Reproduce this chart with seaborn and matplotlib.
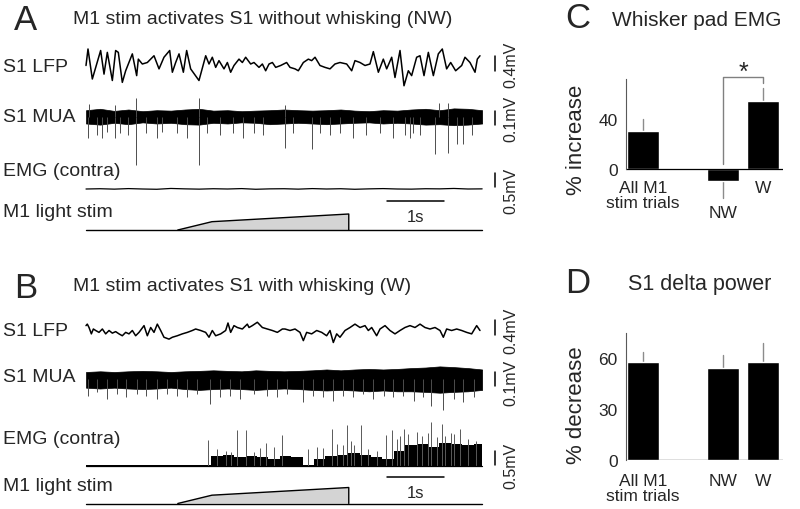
import numpy as np
import pandas as pd
import matplotlib
matplotlib.use("Agg")
import matplotlib.pyplot as plt
import seaborn as sns

sns.set_style("white")
plt.rcParams['font.family'] = ['Liberation Sans', 'DejaVu Sans']

# ---------------- panel A data (time in s) ----------------
lfp_a_t = [0.00, 0.035, 0.111, 0.257, 0.316, 0.374, 0.462, 0.52, 0.567, 0.637, 0.696, 0.813,
           0.889, 0.918, 0.988, 1.076, 1.193, 1.281, 1.368, 1.468, 1.515, 1.573, 1.632, 1.708,
           1.766, 1.836, 1.982, 2.10, 2.158, 2.216, 2.275, 2.333, 2.421, 2.48, 2.538, 2.596,
           2.684, 2.743, 2.801, 2.889, 2.947, 3.035, 3.094, 3.152, 3.211, 3.27, 3.328, 3.415,
           3.520, 3.579, 3.667, 3.725, 3.813, 3.901, 3.959, 4.018, 4.105, 4.193, 4.281, 4.368,
           4.456, 4.573, 4.661, 4.719, 4.807, 4.895, 4.982, 5.041, 5.129, 5.216, 5.275, 5.363,
           5.421, 5.509, 5.579, 5.655, 5.713, 5.801, 5.860, 5.930, 6.006, 6.094, 6.181, 6.251,
           6.327, 6.398, 6.485, 6.591, 6.649, 6.737, 6.825, 6.865, 6.912]
lfp_a_mv = [-0.04, 0.40, -0.40, 0.36, -0.27, 0.31, -0.44, 0.36, 0.31, -0.49, -0.18, 0.27,
            -0.31, 0.13, 0.0, 0.04, 0.22, -0.13, 0.18, 0.36, -0.22, 0.04, 0.27, -0.22,
            0.36, -0.13, -0.44, 0.22, 0.0, 0.18, -0.09, 0.09, -0.13, 0.04, -0.22, -0.04,
            0.13, 0.04, 0.18, 0.0, 0.04, -0.09, 0.0, -0.18, 0.0, 0.04, -0.09, -0.04,
            0.04, -0.09, -0.13, -0.18, 0.04, 0.13, 0.09, 0.18, -0.04, -0.09, -0.13, 0.0,
            0.04, 0.0, -0.18, 0.09, 0.04, -0.04, 0.0, 0.33, -0.22, 0.13, -0.13, 0.18,
            -0.36, 0.36, -0.58, -0.18, -0.31, 0.18, 0.22, -0.31, 0.31, -0.31, 0.27, 0.40,
            -0.13, 0.04, -0.18, -0.04, 0.18, 0.04, -0.22, 0.13, 0.22]

# MUA band edges (uV) every 0.25 s, and spikes
mua_a_top = [45, 55, 40, 50, 38, 45, 42, 50, 55, 42, 45, 38, 42, 45, 50,
             45, 42, 45, 50, 42, 38, 45, 42, 50, 55, 45, 58, 55, 45]
mua_a_bot = [50, 58, 45, 55, 42, 50, 45, 55, 58, 45, 50, 42, 45, 55, 50,
             45, 50, 55, 50, 45, 42, 50, 45, 50, 58, 55, 62, 58, 50]
mua_a_spk_t = [0.04, 0.19, 0.28, 0.36, 0.51, 0.60, 0.74, 0.88, 1.06, 1.24, 1.33, 1.59, 1.77,
               1.99, 2.12, 2.35, 2.58, 2.76, 2.94, 3.11, 3.49, 3.64, 3.96, 4.11, 4.28, 4.46,
               4.69, 4.92, 5.16, 5.39, 5.60, 5.68, 5.74, 5.86, 6.12, 6.35, 6.51, 6.61, 6.77]
mua_a_spk_uv = [150, 135, 150, 110, 150, 120, 135, 345, 120, 150, 110, 120, 150,
                345, 120, 135, 120, 150, 120, 135, 225, 120, 235, 120, 135, 120,
                150, 135, 120, 150, 135, 150, 120, 135, 270, 260, 195, 195, 135]
mua_a_up_t = [0.05, 0.50, 0.88, 1.99, 3.49, 6.20, 6.35]
mua_a_up_uv = [90, 80, 135, 130, 85, 100, 95]

emg_a_mv = [0.0, 0.01, -0.005, 0.015, 0.0, -0.01, 0.02, 0.005, -0.005, 0.01, 0.0, 0.015, -0.01,
            0.005, 0.01, -0.005, 0.015, 0.0, 0.01, -0.01, 0.005, 0.015, 0.0, -0.005, 0.01,
            0.005, 0.02, 0.0, 0.005]

# ---------------- panel B data ----------------
lfp_b_t = [0.0, 0.023, 0.053, 0.094, 0.129, 0.170, 0.228, 0.287, 0.345, 0.404, 0.462, 0.520,
           0.579, 0.637, 0.696, 0.754, 0.813, 0.871, 0.930, 1.018, 1.076, 1.135, 1.193, 1.251,
           1.310, 1.368, 1.456, 1.515, 1.602, 1.690, 1.778, 1.865, 1.924, 2.012, 2.099, 2.158,
           2.216, 2.275, 2.363, 2.450, 2.491, 2.538, 2.596, 2.655, 2.743, 2.830, 2.860, 2.918,
           3.006, 3.094, 3.181, 3.269, 3.357, 3.445, 3.491, 3.579, 3.667, 3.754, 3.813, 3.871,
           3.959, 4.047, 4.135, 4.222, 4.281, 4.339, 4.398, 4.456, 4.544, 4.632, 4.719, 4.807,
           4.895, 4.953, 5.012, 5.099, 5.158, 5.246, 5.333, 5.421, 5.509, 5.596, 5.684, 5.772,
           5.860, 5.947, 6.035, 6.123, 6.211, 6.269, 6.327, 6.415, 6.503, 6.591, 6.678, 6.766,
           6.854, 6.912]
lfp_b_mv = [0.09, 0.13, 0.04, -0.13, 0.0, -0.04, -0.09, 0.0, -0.13, -0.04, -0.11, -0.07,
            -0.13, -0.18, -0.09, -0.13, -0.04, -0.18, -0.09, 0.09, -0.18, 0.04, -0.09, 0.13,
            -0.04, -0.22, -0.27, -0.22, -0.18, -0.13, -0.09, -0.04, 0.0, -0.04, -0.09, -0.22,
            -0.04, -0.18, -0.13, -0.04, 0.16, -0.09, 0.09, 0.04, 0.0, 0.13, 0.04, 0.09,
            0.18, 0.04, 0.0, -0.04, -0.09, 0.0, 0.0, -0.04, 0.0, -0.09, -0.31, -0.09,
            -0.13, -0.04, -0.09, -0.18, -0.04, -0.36, -0.13, -0.22, -0.04, 0.04, 0.13, 0.04,
            0.09, -0.04, 0.04, -0.18, 0.0, 0.09, -0.04, -0.13, -0.04, 0.04, 0.09, 0.04,
            0.13, 0.04, 0.0, 0.04, -0.04, -0.22, 0.0, -0.04, 0.0, -0.04, -0.09, -0.13,
            0.09, -0.04]

mua_b_top = [50, 55, 50, 55, 58, 55, 50, 55, 58, 62, 58, 55, 62, 58, 55,
             58, 62, 68, 62, 68, 72, 68, 72, 78, 82, 90, 85, 78, 68]
mua_b_bot = [62, 68, 62, 68, 72, 68, 62, 72, 78, 72, 68, 72, 78, 72, 68,
             72, 78, 82, 78, 82, 88, 82, 88, 88, 92, 98, 92, 88, 78]
mua_b_spk_t = [0.04, 0.19, 0.36, 0.54, 0.71, 0.89, 1.06, 1.24, 1.42, 1.59, 1.77, 1.94, 2.18,
               2.35, 2.53, 2.70, 2.94, 3.17, 3.35, 3.52, 3.81, 3.99, 4.16, 4.34, 4.51, 4.69,
               4.86, 5.04, 5.22, 5.39, 5.57, 5.75, 5.92, 6.06, 6.27, 6.45, 6.62, 6.80]
mua_b_spk_uv = [119, 91, 140, 105, 126, 105, 119, 140, 105, 119, 126, 105, 175,
                126, 119, 140, 105, 119, 126, 105, 161, 119, 126, 154, 119, 126,
                105, 140, 119, 126, 119, 154, 126, 196, 224, 140, 161, 126]

emg_b_env = [0.02, 0.02, 0.02, 0.02, 0.02, 0.02, 0.02, 0.02, 0.02, 0.02, 0.02, 0.35,
             0.4, 0.3, 0.35, 0.3, 0.25, 0.35, 0.3, 0.03, 0.25, 0.35, 0.4, 0.45,
             0.4, 0.3, 0.25, 0.55, 0.75, 0.8, 0.7, 0.85, 0.8, 0.75, 0.8, 0.6]
emg_b_spk_t = [2.14, 2.65, 2.81, 3.15, 3.44, 4.32, 4.58, 4.82, 5.26, 5.37, 5.58, 5.81, 6.05,
               6.25, 6.40, 6.57, 2.30, 2.45, 2.55, 2.95, 3.05, 3.30, 3.90, 4.05, 4.15, 4.40,
               4.50, 4.65, 4.70, 4.95, 5.10, 5.45, 5.50, 5.65, 5.90, 6.00, 6.15, 6.30, 6.45,
               6.70, 6.85]
emg_b_spk_mv = [0.95, 1.31, 1.31, 0.83, 1.13, 1.37, 1.49, 1.49, 1.13, 1.31, 1.37, 1.25, 1.61,
                1.55, 1.19, 1.37, 0.6, 0.55, 0.5, 0.5, 0.65, 0.7, 0.6, 0.7, 0.65, 0.8,
                0.75, 0.9, 0.75, 0.6, 0.55, 1.0, 1.1, 1.15, 1.1, 1.2, 1.05, 1.1, 1.15,
                1.0, 0.9]

# light stimulus ramp (normalised intensity)
stim_t = [1.61, 2.21, 4.61]
stim_level = [0.0, 0.52, 1.0]

# ---------------- panels C, D ----------------
groups = ['All M1\nstim trials', 'NW', 'W']
group_pos = [0, 2, 3]
emg_increase = [30.1, -9.3, 54.1]
emg_increase_err = [9.6, 14.2, 10.4]
delta_decrease = [57.6, 54.1, 57.6]
delta_decrease_err = [5.9, 7.7, 11.2]

# ---------------- layout constants (pixels) ----------------
X0, PXS, T_END = 86, 57.0, 6.95
LFP_PX, MUA_PX, EMG_PX, STIM_PX = 37.5, 0.14, 27.0, 16.0

fig = plt.figure(figsize=(8, 5.1), dpi=100)
ax = fig.add_axes([0, 0, 1, 1])


def tx(t):
    return X0 + PXS * np.asarray(t, dtype=float)


def draw_traces(lfp_t, lfp_v, top, bot, spk_t, spk_v, up_t, up_v, rows):
    y_lfp, y_mua, y_emg, y_stim = rows
    sns.lineplot(x=tx(lfp_t), y=y_lfp - LFP_PX * np.asarray(lfp_v), ax=ax, color='k',
                 linewidth=1.1, sort=False, estimator=None)
    bins = np.linspace(0, T_END, len(top))
    ax.fill_between(tx(bins), y_mua - MUA_PX * np.asarray(top), y_mua + MUA_PX * np.asarray(bot),
                    color='k', lw=0.5, edgecolor='k')
    ax.vlines(tx(spk_t), y_mua, y_mua + MUA_PX * np.asarray(spk_v), color='0.3', lw=0.7)
    if up_t:
        ax.vlines(tx(up_t), y_mua, y_mua - MUA_PX * np.asarray(up_v), color='0.3', lw=0.7)
    # light stim
    sx = tx(stim_t)
    sy = y_stim - STIM_PX * np.asarray(stim_level)
    ax.fill([sx[0], sx[1], sx[2], sx[2]], [y_stim, sy[1], sy[2], y_stim], color='#d4d4d4', lw=0)
    ax.plot([X0, tx(T_END)], [y_stim, y_stim], color='k', lw=1)
    ax.plot([sx[0], sx[1], sx[2], sx[2]], [y_stim, sy[1], sy[2], y_stim], color='k', lw=1)


# panel A
rows_a = (65, 117.5, 190, 231)
draw_traces(lfp_a_t, lfp_a_mv, mua_a_top, mua_a_bot, mua_a_spk_t, mua_a_spk_uv,
            mua_a_up_t, mua_a_up_uv, rows_a)
emg_a_t = np.linspace(0, T_END, len(emg_a_mv))
ax.plot(tx(emg_a_t), rows_a[2] - EMG_PX * np.asarray(emg_a_mv), color='k', lw=0.9)

# panel B
rows_b = (330, 380, 466.5, 504.5)
draw_traces(lfp_b_t, lfp_b_mv, mua_b_top, mua_b_bot, mua_b_spk_t, mua_b_spk_uv, [], [], rows_b)
emg_b_t = np.minimum(np.arange(len(emg_b_env)) * 0.2, T_END)
ax.fill_between(tx(emg_b_t), rows_b[2], rows_b[2] - EMG_PX * np.asarray(emg_b_env),
                step='post', color='k', lw=0)
ax.vlines(tx(emg_b_spk_t), rows_b[2], rows_b[2] - EMG_PX * np.asarray(emg_b_spk_mv),
          color='0.35', lw=0.7)
ax.plot([X0, tx(T_END)], [rows_b[2], rows_b[2]], color='k', lw=0.9)

# row labels, titles, scale bars
lab = dict(fontsize=14, va='center', ha='left')
for rows, lbl_y in [(rows_a, (67, 117, 172, 213)), (rows_b, (332, 378, 440, 487))]:
    for txt, yy in zip(['S1 LFP', 'S1 MUA', 'EMG (contra)', 'M1 light stim'], lbl_y):
        ax.text(3, yy, txt, **lab)

ax.text(14, 21, 'A', fontsize=25, ha='left', va='center')
ax.text(73, 19, 'M1 stim activates S1 without whisking (NW)', fontsize=14, ha='left', va='center')
ax.text(14, 289, 'B', fontsize=25, ha='left', va='center')
ax.text(73, 287, 'M1 stim activates S1 with whisking (W)', fontsize=14, ha='left', va='center')

sb = dict(fontsize=11.5, rotation=90, ha='center', va='center')
for (y0, ln, txt, ty) in [(57, 0.4 * LFP_PX, '0.4mV', 65), (112, 0.1 * 1000 * MUA_PX, '0.1mV', 119),
                          (174, 0.5 * EMG_PX, '0.5mV', 191),
                          (321, 0.4 * LFP_PX, '0.4mV', 331), (373, 0.1 * 1000 * MUA_PX, '0.1mV', 383),
                          (452, 0.5 * EMG_PX, '0.5mV', 466)]:
    ax.plot([495, 495], [y0, y0 + ln], color='k', lw=1.1)
    ax.text(511, ty, txt, **sb)

for yb, yt in [(202, 218), (478, 494)]:
    ax.plot([tx(5.28), tx(6.28)], [yb, yb], color='k', lw=1.1)
    ax.text(tx(5.78), yt, '1s', fontsize=12, ha='center', va='center')

ax.text(565, 18, 'C', fontsize=25, ha='left', va='center')
ax.text(612, 20, 'Whisker pad EMG', fontsize=15, ha='left', va='center')
ax.text(565, 284, 'D', fontsize=25, ha='left', va='center')
ax.text(628, 285, 'S1 delta power', fontsize=15.5, ha='left', va='center')
ax.text(577, 140, '% increase', fontsize=16, rotation=90, ha='center', va='center')
ax.text(577, 405, '% decrease', fontsize=16, rotation=90, ha='center', va='center')

ax.set_xlim(0, 800)
ax.set_ylim(510, 0)
ax.axis('off')


def bar_panel(rect, values, errs, ylim, top, major, minor, label_y):
    bx = fig.add_axes(rect)
    bx.patch.set_alpha(0)
    df = pd.DataFrame({'pos': group_pos, 'value': values})
    sns.barplot(data=df, x='pos', y='value', native_scale=True, color='k', saturation=1,
                errorbar=None, width=0.8, ax=bx)
    for p, v, e in zip(group_pos, values, errs):
        bx.plot([p, p], [v, v + np.sign(v) * e], color='0.55', lw=1, zorder=0)
    bx.axhline(0, color='k', lw=0.9)
    sns.despine(ax=bx, bottom=True)
    bx.spines['left'].set_bounds(0, top)
    bx.spines['left'].set_color('0.35')
    bx.spines['left'].set_linewidth(0.8)
    bx.set_xlim(-0.425, 3.5)
    bx.set_ylim(*ylim)
    bx.set_xticks([])
    bx.set_yticks(major)
    bx.set_yticks(minor, minor=True)
    bx.tick_params(axis='y', which='both', direction='out', length=4, width=0.8,
                   color='0.35', labelsize=12.5, pad=2)
    bx.set_xlabel('')
    bx.set_ylabel('')
    for p, g, ly in zip(group_pos, groups, label_y):
        bx.text(p, ly, g, fontsize=12.5, ha='center', va='top', linespacing=1.0, clip_on=False)
    return bx


axc = bar_panel([626 / 800, 1 - 202.5 / 510, 157 / 800, 122.5 / 510], emg_increase,
                emg_increase_err, (-26, 72), 72, [0, 40], [20, 60], [-8.5, -28.5, -8.5])
axc.plot([2, 2, 3, 3], [4, 73.5, 73.5, 69], color='0.5', lw=1, clip_on=False)
axc.text(2.5, 77.5, '*', fontsize=18, ha='center', va='center', clip_on=False)

axd = bar_panel([626 / 800, 1 - 461 / 510, 157 / 800, 127.5 / 510], delta_decrease,
                delta_decrease_err, (0, 75), 75, [0, 30, 60], [15, 45, 75], [-7.5, -7.5, -7.5])

fig.savefig('out.png', dpi=100)
